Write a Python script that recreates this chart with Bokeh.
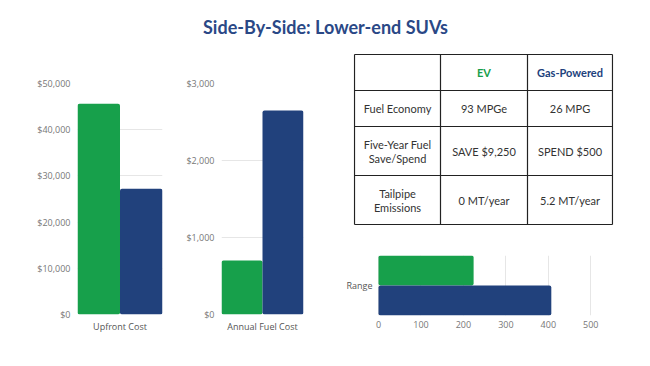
from bokeh.plotting import figure
from bokeh.layouts import row, column
from bokeh.models import (ColumnDataSource, FactorRange, Range1d, NumeralTickFormatter,
                          SingleIntervalTicker, VBar)
from bokeh.transform import dodge
from bokeh.core.properties import value
from bokeh.embed import file_html
from bokeh.resources import INLINE

# ---------------- data ----------------
title_text = "Side-By-Side: Lower-end SUVs"
series_names = ["EV", "Gas-Powered"]

cost_categories = ["Upfront Cost"]
ev_upfront = [45600]
gas_upfront = [27200]

fuel_categories = ["Annual Fuel Cost"]
ev_fuel = [700]
gas_fuel = [2650]

range_categories = ["Range"]
ev_range = [224]
gas_range = [407]

table_header = ["", "EV", "Gas-Powered"]
table_row_labels = [["Fuel Economy"], ["Five-Year Fuel", "Save/Spend"], ["Tailpipe", "Emissions"]]
table_ev = ["93 MPGe", "SAVE $9,250", "0 MT/year"]
table_gas = ["26 MPG", "SPEND $500", "5.2 MT/year"]

# ---------------- styles ----------------
GREEN = "#17a04b"
BLUE = "#21417c"
TITLE_BLUE = "#2a4886"
GRID = "#e6e6e6"
TICK_GRAY = "#777777"
LABEL_GRAY = "#555555"
TEXT = "#333333"
FONT = "Open Sans"
TFONT = "Lato"

radius_kw = {}
if "border_radius" in VBar.properties():
    radius_kw = {"border_radius": 2}


def style_common(p):
    p.outline_line_color = None
    p.background_fill_color = "white"
    p.border_fill_color = "white"
    for ax in p.axis:
        ax.axis_line_color = None
        ax.major_tick_line_color = None
        ax.minor_tick_line_color = None
        ax.major_tick_out = 0
        ax.major_tick_in = 0
        ax.minor_tick_out = 0
        ax.major_label_text_font = FONT
        ax.major_label_text_font_size = "9px"


def column_chart(cats, ev, gas, ymax, step, min_left, frame_w, min_right):
    p = figure(x_range=FactorRange(factors=cats), y_range=Range1d(0, ymax),
               frame_width=frame_w, frame_height=231,
               min_border_left=min_left, min_border_right=min_right,
               min_border_top=30, min_border_bottom=52,
               output_backend="svg", toolbar_location=None)
    src = ColumnDataSource(dict(cat=cats, ev=ev, gas=gas))
    p.vbar(x=dodge("cat", -0.25, range=p.x_range), top="ev", width=0.5, source=src,
           fill_color=GREEN, line_color=None, **radius_kw)
    p.vbar(x=dodge("cat", 0.25, range=p.x_range), top="gas", width=0.5, source=src,
           fill_color=BLUE, line_color=None, **radius_kw)
    style_common(p)
    p.xgrid.grid_line_color = None
    p.ygrid.grid_line_color = GRID
    p.ygrid.ticker = SingleIntervalTicker(interval=step)
    p.yaxis.ticker = SingleIntervalTicker(interval=step)
    p.yaxis.formatter = NumeralTickFormatter(format="$0,0")
    p.yaxis.major_label_text_color = TICK_GRAY
    p.yaxis.major_label_standoff = 7
    p.xaxis.major_label_text_color = LABEL_GRAY
    p.xaxis.major_label_standoff = 5
    return p


p1 = column_chart(cost_categories, ev_upfront, gas_upfront, 50000, 10000, 77, 85, 8)
p2 = column_chart(fuel_categories, ev_fuel, gas_fuel, 3000, 1000, 51, 82, 27)

# ---------------- title ----------------
pt = figure(width=650, height=53, x_range=Range1d(0, 650), y_range=Range1d(53, 0),
            min_border=0, output_backend="svg", toolbar_location=None)
pt.axis.visible = False
pt.grid.visible = False
pt.outline_line_color = None
pt.text(x=[325], y=[26], text=[title_text], text_align="center", text_baseline="middle",
        text_font=value(TFONT), text_font_style="bold", text_font_size=value("18px"),
        text_color=TITLE_BLUE)

# ---------------- table ----------------
# right column: frame spans x 23..283 (relative to column start), shared with the range chart
ptab = figure(x_range=Range1d(23, 283), y_range=Range1d(187, 0),
              frame_width=260, frame_height=187,
              min_border_left=23, min_border_right=37, min_border_top=0, min_border_bottom=0,
              output_backend="svg", toolbar_location=None)
ptab.axis.visible = False
ptab.grid.visible = False
ptab.outline_line_color = None
col_x = [24, 110, 197, 282]
row_y = [1, 37, 73, 122, 171]
ptab.segment(x0=col_x, y0=[row_y[0]] * 4, x1=col_x, y1=[row_y[-1]] * 4,
             line_color="#222222", line_width=1.2)
ptab.segment(x0=[col_x[0]] * 5, y0=row_y, x1=[col_x[-1]] * 5, y1=row_y,
             line_color="#222222", line_width=1.2)
cx = [(col_x[i] + col_x[i + 1]) / 2 for i in range(3)]
cy = [(row_y[i] + row_y[i + 1]) / 2 for i in range(4)]
hdr_colors = [TEXT, GREEN, BLUE]
for i, h in enumerate(table_header):
    if h:
        ptab.text(x=[cx[i]], y=[cy[0]], text=[h], text_align="center", text_baseline="middle",
                  text_font=value(TFONT), text_font_style="bold", text_font_size=value("11px"),
                  text_color=hdr_colors[i])
for r in range(3):
    lines = table_row_labels[r]
    n = len(lines)
    for k, ln in enumerate(lines):
        yy = cy[r + 1] + (k - (n - 1) / 2) * 14
        ptab.text(x=[cx[0]], y=[yy], text=[ln], text_align="center", text_baseline="middle",
                  text_font=value(TFONT), text_font_size=value("11px"), text_color=TEXT)
    ptab.text(x=[cx[1]], y=[cy[r + 1]], text=[table_ev[r]], text_align="center",
              text_baseline="middle", text_font=value(TFONT), text_font_size=value("11px"),
              text_color=TEXT)
    ptab.text(x=[cx[2]], y=[cy[r + 1]], text=[table_gas[r]], text_align="center",
              text_baseline="middle", text_font=value(TFONT), text_font_size=value("11px"),
              text_color=TEXT)

# ---------------- range bar chart ----------------
# frame shares the table's horizontal extent; 0 sits 25 px inside it, 500 at 237 px
px_per_unit = 212.3 / 500
x_start = -25 / px_per_unit
x_end = x_start + 260 / px_per_unit
p3 = figure(y_range=FactorRange(factors=range_categories), x_range=Range1d(x_start, x_end),
            frame_width=260, frame_height=60,
            min_border_left=23, min_border_right=37, min_border_top=15, min_border_bottom=51,
            output_backend="svg", toolbar_location=None)
src3 = ColumnDataSource(dict(cat=range_categories, ev=ev_range, gas=gas_range))
p3.hbar(y=dodge("cat", 0.25, range=p3.y_range), right="ev", height=0.5, source=src3,
        fill_color=GREEN, line_color=None, **radius_kw)
p3.hbar(y=dodge("cat", -0.25, range=p3.y_range), right="gas", height=0.5, source=src3,
        fill_color=BLUE, line_color=None, **radius_kw)
style_common(p3)
p3.ygrid.grid_line_color = None
p3.xgrid.grid_line_color = GRID
p3.xgrid.ticker = SingleIntervalTicker(interval=100)
p3.xaxis.ticker = SingleIntervalTicker(interval=100)
p3.xaxis.major_label_text_color = TICK_GRAY
p3.xaxis.major_label_standoff = 5
p3.yaxis.major_label_text_color = LABEL_GRAY
p3.yaxis.major_label_standoff = -19

layout = column(pt, row(p1, p2, column(ptab, p3)))
open("out.html", "w").write(file_html(layout, INLINE))
